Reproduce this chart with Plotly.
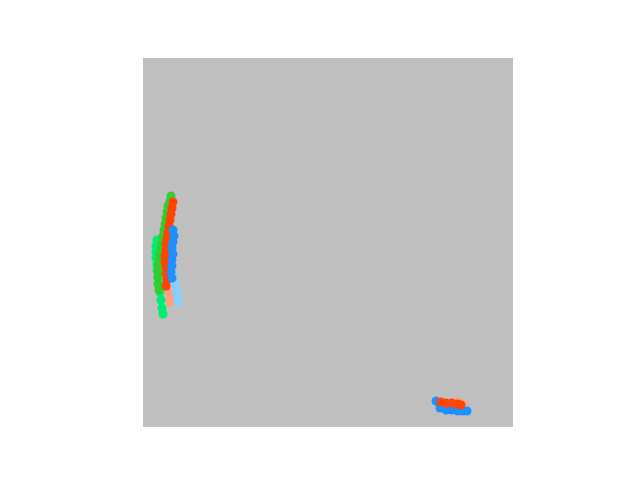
import plotly.graph_objects as go

# Data (units: plot spans 0..370 in x and 0..369 in y)
limegreen_x = [28, 27, 25, 24, 23, 22, 21, 20, 19, 18, 17, 16, 15, 15, 15, 15, 16]
limegreen_y = [231, 226, 221, 215, 209, 203, 197, 191, 185, 179, 173, 167, 161, 155, 149, 143, 137]

orangered_x = [30, 29, 28, 27, 26, 25, 24, 23, 23, 22, 22, 23, 23, 24, 23]
orangered_y = [225, 219, 213, 207, 201, 195, 189, 183, 177, 171, 165, 159, 153, 147, 141]
orangered2_x = [298, 303, 309, 315, 318]
orangered2_y = [25, 24, 24, 23, 22]

dodgerblue_x = [30, 31, 30, 29, 30, 29, 29, 28, 29]
dodgerblue_y = [197, 191, 185, 179, 173, 167, 161, 155, 149]
dodgerblue2_x = [293, 297, 303, 309, 315, 320, 324]
dodgerblue2_y = [26, 19, 17, 17, 16, 16, 16]

springgreen_x = [14, 13, 13, 13, 14, 14, 15, 16, 17, 18, 19, 20]
springgreen_y = [187, 181, 175, 169, 163, 157, 151, 143, 135, 127, 119, 113]

lightsalmon_x = [24, 25, 25, 26, 26, 27, 27]
lightsalmon_y = [165, 157, 149, 141, 135, 129, 125]
lightsalmon2_x = [315, 320, 322]
lightsalmon2_y = [25, 23, 21]

lightskyblue_x = [31, 32, 33, 34, 35, 35]
lightskyblue_y = [149, 143, 137, 132, 128, 125]
lightskyblue2_x = [321, 324]
lightskyblue2_y = [19, 17]

series = [
    (lightsalmon_x, lightsalmon_y, "#ffa07a"),
    (lightsalmon2_x, lightsalmon2_y, "#ffa07a"),
    (lightskyblue_x, lightskyblue_y, "#87cefa"),
    (lightskyblue2_x, lightskyblue2_y, "#87cefa"),
    (springgreen_x, springgreen_y, "#00ee76"),
    (limegreen_x, limegreen_y, "#32cd32"),
    (dodgerblue2_x, dodgerblue2_y, "#1e90ff"),
    (orangered2_x, orangered2_y, "#ff4500"),
    (orangered_x, orangered_y, "#ff4500"),
    (dodgerblue_x, dodgerblue_y, "#1e90ff"),
]

fig = go.Figure()
for xs, ys, c in series:
    fig.add_trace(go.Scatter(
        x=xs, y=ys, mode="lines+markers",
        line=dict(color=c, width=5),
        marker=dict(color=c, size=9, line=dict(width=0)),
        showlegend=False, hoverinfo="skip",
    ))

fig.update_layout(
    width=640, height=480,
    margin=dict(l=143, r=127, t=58, b=53),
    paper_bgcolor="white",
    plot_bgcolor="#bfbfbf",
    xaxis=dict(range=[0, 370], visible=False, showgrid=False, zeroline=False),
    yaxis=dict(range=[0, 369], visible=False, showgrid=False, zeroline=False),
)

fig.write_html("out.html")
